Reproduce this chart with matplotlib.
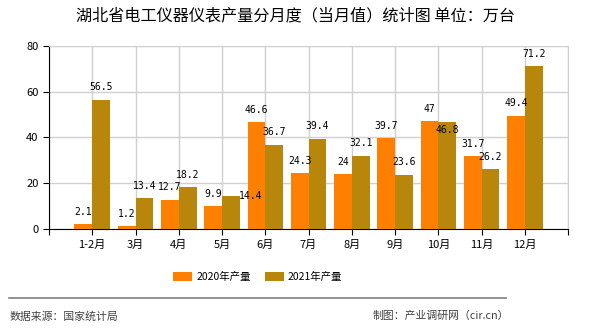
import matplotlib
matplotlib.use('Agg')
import matplotlib.pyplot as plt
import numpy as np

plt.rcParams['font.family'] = ['Noto Sans CJK SC', 'DejaVu Sans']

months = ['1-2月', '3月', '4月', '5月', '6月', '7月', '8月', '9月', '10月', '11月', '12月']
output_2020 = [2.1, 1.2, 12.7, 9.9, 46.6, 24.3, 24, 39.7, 47, 31.7, 49.4]
output_2021 = [56.5, 13.4, 18.2, 14.4, 36.7, 39.4, 32.1, 23.6, 46.8, 26.2, 71.2]
yticks = [0, 20, 40, 60, 80]

c2020 = '#FF8000'
c2021 = '#B8860B'

# label offsets in points, (series, index) -> (dx, dy); default sits above bar
label_nudge = {
    (1, 3): (14, 0),
    (1, 8): (0, -6),
}

fig = plt.figure(figsize=(5.9, 3.3), dpi=100)
ax = fig.add_axes([0.083, 0.306, 0.88, 0.555])

x = np.arange(len(months))
w = 0.41
b1 = ax.bar(x - w / 2, output_2020, w, color=c2020, label='2020年产量', zorder=3)
b2 = ax.bar(x + w / 2, output_2021, w, color=c2021, label='2021年产量', zorder=3)

for s, (bars, vals) in enumerate(((b1, output_2020), (b2, output_2021))):
    for i, (rect, v) in enumerate(zip(bars, vals)):
        off = label_nudge.get((s, i), (0, 9))
        ax.annotate(f'{v:g}', (rect.get_x() + rect.get_width() / 2, v),
                    xytext=off, textcoords='offset points',
                    ha='center', va='center', fontsize=7,
                    family='DejaVu Sans Mono', zorder=4)

ax.set_xlim(-1, len(months))
ax.set_ylim(0, 80)
ax.set_yticks(yticks)
ax.set_xticks(np.arange(-1, len(months) + 1))
ax.set_xticklabels([''] + months + [''])
ax.tick_params(labelsize=8, length=4, color='black')
ax.grid(True, color='#d0d0d0', linewidth=1, zorder=0)
ax.spines['top'].set_color('#d0d0d0')
ax.spines['right'].set_color('#d0d0d0')

fig.text(0.5, 0.951, '湖北省电工仪器仪表产量分月度（当月值）统计图 单位：万台',
         ha='center', va='center', fontsize=11.6)

fig.legend(handles=[b1, b2], loc='center', bbox_to_anchor=(0.437, 0.161),
           ncol=2, frameon=False, fontsize=7.5, handlelength=1.8,
           handleheight=0.95, columnspacing=1.4, handletextpad=0.4)

fig.add_artist(plt.Line2D([0.015, 0.858], [0.097, 0.097], color='#808080',
                          linewidth=1.2, transform=fig.transFigure))
fig.text(0.017, 0.042, '数据来源：国家统计局', ha='left', va='center',
         fontsize=7.8, color='#404040')
fig.text(0.862, 0.042, '制图：产业调研网（cir.cn）', ha='right', va='center',
         fontsize=7.8, color='#404040')

fig.savefig('out.png', dpi=100)
